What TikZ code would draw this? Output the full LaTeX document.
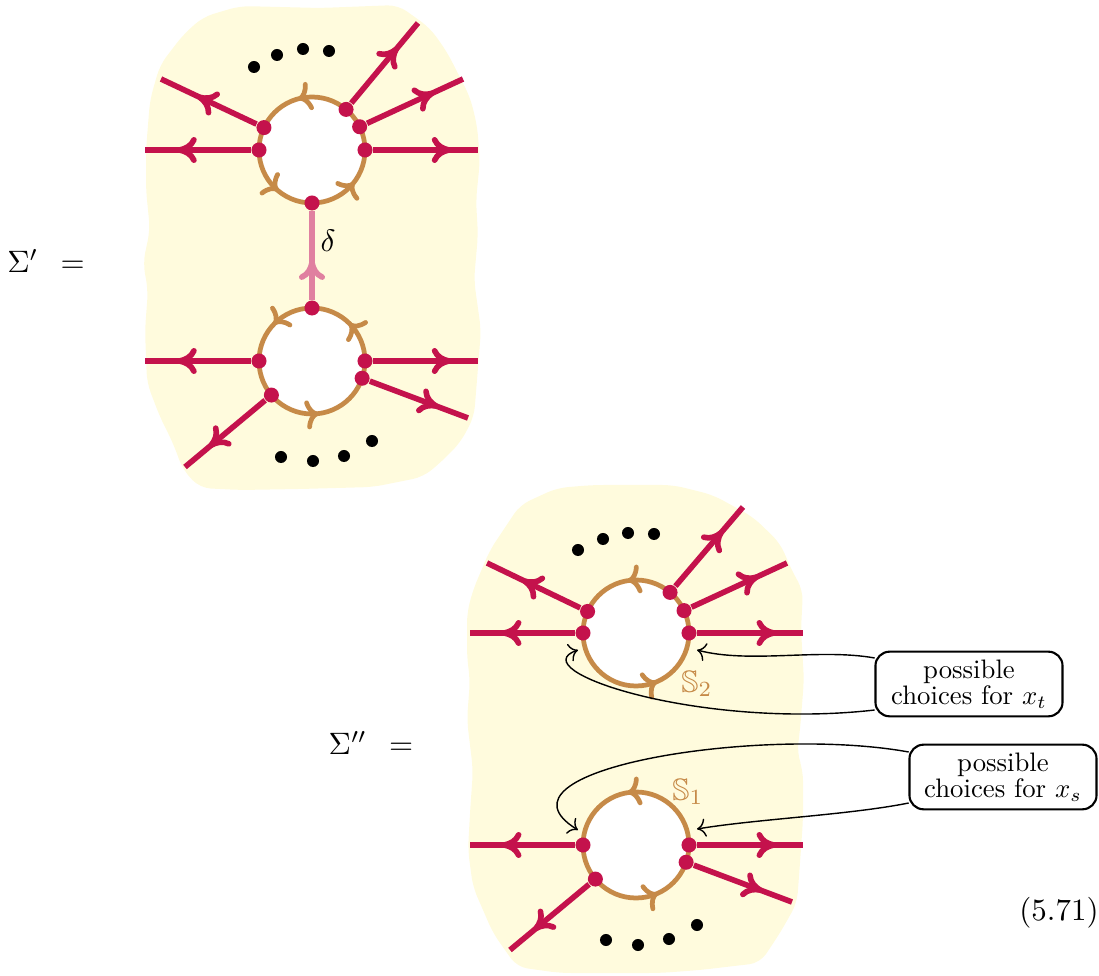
\documentclass[tikz,border=0pt]{standalone}
\usepackage{xcolor}
\usepackage{amsmath}
\usepackage{amssymb}
\usepackage{tikz}
\usetikzlibrary{calc,arrows.meta,decorations.markings}

\definecolor{legc}{RGB}{196,18,76}
\definecolor{ringc}{RGB}{198,138,72}
\definecolor{deltac}{RGB}{224,128,160}
\definecolor{blobc}{RGB}{255,251,221}

\begin{document}
\begin{tikzpicture}[
    x=0.01cm, y=-0.01cm,
    txt/.style={scale=0.76, transform shape},
    eqlabel/.style={scale=0.88, transform shape},
    blob/.style={fill=blobc, rounded corners=3pt},
    ring/.style={draw=ringc, line width=1.35pt, fill=white},
    ringarrow/.style={postaction={decorate, decoration={markings, mark=at position #1 with {\arrowreversed{Computer Modern Rightarrow[length=1.3mm, width=2.9mm]}}}}},
    leg/.style={draw=legc, line width=1.6pt, postaction={decorate}, decoration={markings, mark=at position #1 with {\arrow{Computer Modern Rightarrow[length=2mm, width=2.6mm]}}}},
    leg/.default=0.7,
    dot/.style={circle, fill=legc, inner sep=0pt, minimum size=0.15cm},
    bdot/.style={circle, fill=black, inner sep=0pt, minimum size=0.12cm},
    ringlabel/.style={eqlabel, text=ringc},
    choice/.style={txt, draw, line width=0.6pt, rounded corners=4pt, align=center, minimum width=2.46cm, minimum height=0.85cm, inner sep=2pt},
    callout/.style={-{Computer Modern Rightarrow}, line width=0.4pt}
  ]
    \useasboundingbox (0,0) rectangle (1099,976);

    % backgrounds
    \fill[blob] (203,17) -- (240,6) -- (320,8) -- (398,5) -- (430,28) -- (447,52) -- (470,97) -- (477,125)
      -- (480,160) -- (476,200) -- (478,235) -- (474,280) -- (481,330) -- (477,380) -- (474,417) -- (460,443)
      -- (440,463) -- (423,477) -- (373,487) -- (300,489) -- (240,490) -- (200,488) -- (183,470) -- (173,443)
      -- (160,417) -- (147,383) -- (145,330) -- (148,290) -- (143,263) -- (150,230) -- (146,190) -- (146,150)
      -- (150,100) -- (160,65) -- (183,35) -- cycle;
    \fill[blob] (520,505) -- (557,488) -- (593,485) -- (673,485) -- (713,495) -- (753,517) -- (780,543)
      -- (793,573) -- (803,590) -- (801,630) -- (804,680) -- (800,730) -- (797,753) -- (803,770) -- (803,820)
      -- (800,863) -- (797,903) -- (780,933) -- (760,963) -- (700,970) -- (660,973) -- (560,973) -- (517,967)
      -- (493,933) -- (473,887) -- (468,850) -- (470,813) -- (473,770) -- (467,720) -- (470,680) -- (467,657)
      -- (467,613) -- (473,590) -- (490,550) -- cycle;

    % Sigma'
    \node[eqlabel] (sig1) at (46,261) {$\Sigma'\;\,=$};
    \coordinate (ca) at (312,150);
    \coordinate (cb) at (312,361);
    \draw[ring, ringarrow=0.105, ringarrow=0.361, ringarrow=0.708] (ca) circle (53);
    \draw[ring, ringarrow=0.23, ringarrow=0.622, ringarrow=0.875] (cb) circle (53);

    \node[dot] (ca-w) at ($(ca)+(180:53)$) {};
    \node[dot] (ca-nw) at ($(ca)+(205:53)$) {};
    \node[dot] (ca-nne) at ($(ca)+(310:53)$) {};
    \node[dot] (ca-ne) at ($(ca)+(334:53)$) {};
    \node[dot] (ca-e) at ($(ca)+(0:53)$) {};
    \node[dot] (ca-s) at ($(ca)+(90:53)$) {};
    \node[dot] (cb-n) at ($(cb)+(270:53)$) {};
    \node[dot] (cb-w) at ($(cb)+(180:53)$) {};
    \node[dot] (cb-e) at ($(cb)+(0:53)$) {};
    \node[dot] (cb-se) at ($(cb)+(19:53)$) {};
    \node[dot] (cb-sw) at ($(cb)+(140:53)$) {};

    \coordinate (ca-w-end) at (145,150);
    \coordinate (ca-nw-end) at (161,79);
    \coordinate (ca-nne-end) at (418,23);
    \coordinate (ca-ne-end) at (463,79);
    \coordinate (ca-e-end) at (478,150);
    \coordinate (cb-w-end) at (145,361);
    \coordinate (cb-e-end) at (478,361);
    \coordinate (cb-se-end) at (468,418);
    \coordinate (cb-sw-end) at (185,467);

    \draw[leg] (ca-w) -- (ca-w-end);
    \draw[leg=0.62] (ca-nw) -- (ca-nw-end);
    \draw[leg] (ca-nne) -- (ca-nne-end);
    \draw[leg] (ca-ne) -- (ca-ne-end);
    \draw[leg=0.75] (ca-e) -- (ca-e-end);
    \draw[leg] (cb-w) -- (cb-w-end);
    \draw[leg=0.75] (cb-e) -- (cb-e-end);
    \draw[leg] (cb-se) -- (cb-se-end);
    \draw[leg] (cb-sw) -- (cb-sw-end);
    \draw[leg=0.45, draw=deltac] (cb-n) -- (ca-s);
    \node[eqlabel] (delta) at (328,241) {$\delta$};

    \node[bdot] (ca-d1) at (254,67) {};
    \node[bdot] (ca-d2) at (277,55) {};
    \node[bdot] (ca-d3) at (303,49) {};
    \node[bdot] (ca-d4) at (329,51) {};
    \node[bdot] (cb-d1) at (281,457) {};
    \node[bdot] (cb-d2) at (313,461) {};
    \node[bdot] (cb-d3) at (344,456) {};
    \node[bdot] (cb-d4) at (372,441) {};

    % Sigma''
    \node[eqlabel] (sig2) at (371,743) {$\Sigma''\;\,=$};
    \coordinate (cc) at (636,633);
    \coordinate (cd) at (636,845);
    \draw[ring, ringarrow=0.186, ringarrow=0.725] (cc) circle (53);
    \draw[ring, ringarrow=0.183, ringarrow=0.725] (cd) circle (53);

    \node[dot] (cc-w) at ($(cc)+(180:53)$) {};
    \node[dot] (cc-nw) at ($(cc)+(204:53)$) {};
    \node[dot] (cc-nne) at ($(cc)+(310:53)$) {};
    \node[dot] (cc-ne) at ($(cc)+(335:53)$) {};
    \node[dot] (cc-e) at ($(cc)+(0:53)$) {};
    \node[dot] (cd-w) at ($(cd)+(180:53)$) {};
    \node[dot] (cd-e) at ($(cd)+(0:53)$) {};
    \node[dot] (cd-se) at ($(cd)+(19:53)$) {};
    \node[dot] (cd-sw) at ($(cd)+(140:53)$) {};

    \coordinate (cc-w-end) at (470,633);
    \coordinate (cc-nw-end) at (487,563);
    \coordinate (cc-nne-end) at (743,507);
    \coordinate (cc-ne-end) at (787,563);
    \coordinate (cc-e-end) at (803,633);
    \coordinate (cd-w-end) at (470,845);
    \coordinate (cd-e-end) at (803,845);
    \coordinate (cd-se-end) at (792,902);
    \coordinate (cd-sw-end) at (510,950);

    \draw[leg] (cc-w) -- (cc-w-end);
    \draw[leg=0.62] (cc-nw) -- (cc-nw-end);
    \draw[leg] (cc-nne) -- (cc-nne-end);
    \draw[leg] (cc-ne) -- (cc-ne-end);
    \draw[leg=0.75] (cc-e) -- (cc-e-end);
    \draw[leg] (cd-w) -- (cd-w-end);
    \draw[leg=0.75] (cd-e) -- (cd-e-end);
    \draw[leg] (cd-se) -- (cd-se-end);
    \draw[leg] (cd-sw) -- (cd-sw-end);

    \node[bdot] (cc-d1) at (578,550) {};
    \node[bdot] (cc-d2) at (603,539) {};
    \node[bdot] (cc-d3) at (628,533) {};
    \node[bdot] (cc-d4) at (654,534) {};
    \node[bdot] (cd-d1) at (606,940) {};
    \node[bdot] (cd-d2) at (638,945) {};
    \node[bdot] (cd-d3) at (669,939) {};
    \node[bdot] (cd-d4) at (697,925) {};

    \node[ringlabel] (s2) at (697,684) {$\mathbb{S}_2$};
    \node[ringlabel] (s1) at (688,792) {$\mathbb{S}_1$};

    % choices for the points
    \node[choice] (xt) at (969,684) {possible\\[-2.3pt]choices for $x_t$};
    \node[choice] (xs) at (1003,777) {possible\\[-2.3pt]choices for $x_s$};
    \coordinate (xt-right) at (697,650);
    \coordinate (xt-left) at (578,650);
    \coordinate (xs-left) at (578,830);
    \coordinate (xs-right) at (697,829);

    \draw[callout] ([yshift=0.26cm]xt.west) .. controls +(-56,-10) and +(53,14) .. (xt-right);
    \draw[callout] ([yshift=-0.26cm]xt.west) .. controls +(-176,20) and +(-58,20) .. (xt-left);
    \draw[callout] ([yshift=0.25cm]xs.west) .. controls +(-149,-27) and +(-98,-60) .. (xs-left);
    \draw[callout] ([yshift=-0.26cm]xs.west) .. controls +(-60,12) and +(60,-10) .. (xs-right);

    \node[eqlabel] (eqno) at (1059,913) {(5.71)};
  \end{tikzpicture}
\end{document}
